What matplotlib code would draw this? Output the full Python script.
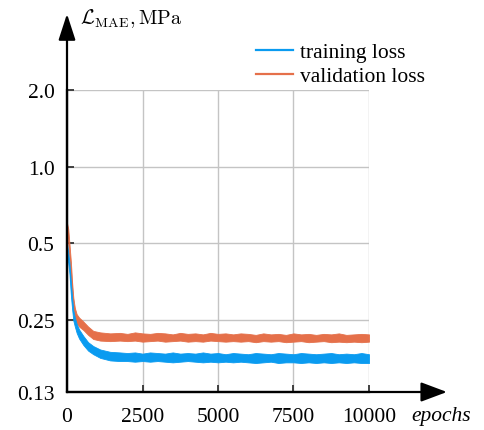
import numpy as np
import matplotlib
matplotlib.use("Agg")
import matplotlib.pyplot as plt

plt.rcParams["font.family"] = ["Liberation Serif", "DejaVu Serif"]
plt.rcParams["mathtext.fontset"] = "cm"

epochs = [0, 40, 80, 130, 170, 210, 260, 320, 400, 540, 700, 870, 1100, 1430,
          1750, 2000, 2250, 2500, 2750, 3000, 3250, 3500, 3750, 4000, 4250,
          4500, 4750, 5000, 5250, 5500, 5750, 6000, 6250, 6500, 6750, 7000,
          7250, 7500, 7750, 8000, 8250, 8500, 8750, 9000, 9250, 9500, 9750,
          10000]

# validation loss, upper / lower edge of the noisy band (MPa)
val_hi = [0.60, 0.57, 0.50, 0.42, 0.35, 0.305, 0.278, 0.263, 0.255, 0.246,
          0.235, 0.226, 0.223, 0.221,
          0.222, 0.220, 0.223, 0.221, 0.220, 0.222, 0.221, 0.219, 0.222, 0.220,
          0.221, 0.219, 0.222, 0.220, 0.221, 0.219, 0.221, 0.220, 0.218, 0.221,
          0.219, 0.220, 0.218, 0.221, 0.219, 0.220, 0.218, 0.220, 0.219, 0.221,
          0.218, 0.219, 0.220, 0.219]
val_lo = [0.54, 0.50, 0.44, 0.37, 0.31, 0.275, 0.253, 0.242, 0.235, 0.228,
          0.218, 0.210, 0.207, 0.206,
          0.207, 0.206, 0.207, 0.205, 0.206, 0.207, 0.205, 0.206, 0.207, 0.205,
          0.206, 0.205, 0.207, 0.206, 0.205, 0.206, 0.205, 0.206, 0.204, 0.206,
          0.205, 0.206, 0.204, 0.205, 0.206, 0.204, 0.205, 0.206, 0.204, 0.205,
          0.204, 0.205, 0.204, 0.205]

# training loss, upper / lower edge
train_hi = [0.50, 0.46, 0.42, 0.35, 0.305, 0.272, 0.255, 0.241, 0.229, 0.216,
            0.204, 0.197, 0.191, 0.187,
            0.186, 0.185, 0.186, 0.184, 0.186, 0.185, 0.184, 0.186, 0.184, 0.185,
            0.184, 0.186, 0.184, 0.185, 0.183, 0.185, 0.184, 0.183, 0.185, 0.184,
            0.183, 0.185, 0.184, 0.183, 0.185, 0.184, 0.183, 0.184, 0.185, 0.183,
            0.184, 0.183, 0.185, 0.183]
train_lo = [0.44, 0.42, 0.38, 0.31, 0.275, 0.248, 0.235, 0.222, 0.211, 0.199,
            0.189, 0.183, 0.177, 0.173,
            0.172, 0.172, 0.171, 0.172, 0.171, 0.172, 0.171, 0.170, 0.171, 0.172,
            0.171, 0.170, 0.171, 0.170, 0.171, 0.170, 0.171, 0.170, 0.169, 0.170,
            0.171, 0.169, 0.170, 0.170, 0.169, 0.170, 0.169, 0.170, 0.169, 0.170,
            0.169, 0.170, 0.169, 0.169]

xticks = [0, 2500, 5000, 7500, 10000]
yticks = [0.13, 0.25, 0.5, 1.0, 2.0]
ytick_labels = ["0.13", "0.25", "0.5", "1.0", "2.0"]

c_train = "#0a9bf0"
c_val = "#e5704a"
fs = 15.5

fig = plt.figure(figsize=(4.85, 4.31), dpi=100)
ax = fig.add_axes([67 / 485, 1 - 393 / 431, 302 / 485, 302 / 431])

ax.fill_between(epochs, val_lo, val_hi, color=c_val, lw=0.6, zorder=3)
ax.fill_between(epochs, train_lo, train_hi, color=c_train, lw=0.6, zorder=3)

ax.set_yscale("log")
ax.set_xlim(0, 10000)
ax.set_ylim(0.13, 2.0)
ax.set_xticks(xticks)
ax.set_xticklabels([str(t) for t in xticks])
ax.set_yticks(yticks)
ax.set_yticklabels(ytick_labels)
ax.yaxis.set_minor_locator(matplotlib.ticker.NullLocator())
ax.tick_params(direction="in", length=5, width=1.3, color="#333333",
               labelsize=fs)
ax.tick_params(axis="x", pad=11)
ax.tick_params(axis="y", pad=9)
ax.grid(True, color="#c4c4c4", lw=1.0)
ax.set_axisbelow(True)

for s in ["top", "right"]:
    ax.spines[s].set_visible(False)
for s in ["left", "bottom"]:
    ax.spines[s].set_linewidth(1.6)
    ax.spines[s].set_zorder(5)

# arrow heads on the axes
ax.annotate("", xy=(0, 1.252), xytext=(0, 0), xycoords="axes fraction",
            arrowprops=dict(arrowstyle="-|>,head_length=0.8,head_width=0.26",
                            color="black", lw=1.6, mutation_scale=20,
                            shrinkA=0, shrinkB=0), annotation_clip=False)
ax.annotate("", xy=(1.258, 0), xytext=(0, 0), xycoords="axes fraction",
            arrowprops=dict(arrowstyle="-|>,head_length=0.8,head_width=0.3",
                            color="black", lw=1.6, mutation_scale=20,
                            shrinkA=0, shrinkB=0), annotation_clip=False)

fig.text(80 / 485, 1 - 19 / 431, r"$\mathcal{L}_{\mathrm{MAE}}, \mathrm{MPa}$",
         fontsize=14.5, va="center", ha="left")
fig.text(411 / 485, 1 - 417 / 431, "epochs", fontsize=fs, style="italic",
         va="center", ha="left")

h1, = ax.plot([], [], color=c_train, lw=1.6, label="training loss")
h2, = ax.plot([], [], color=c_val, lw=1.6, label="validation loss")
ax.legend(handles=[h1, h2], loc="upper left", frameon=False, fontsize=fs,
          bbox_to_anchor=(256 / 485, 1 - 43 / 431),
          bbox_transform=fig.transFigure, borderpad=0, borderaxespad=0,
          handlelength=1.72, handletextpad=0.33, labelspacing=0.2)

fig.savefig("out.png", dpi=100)
